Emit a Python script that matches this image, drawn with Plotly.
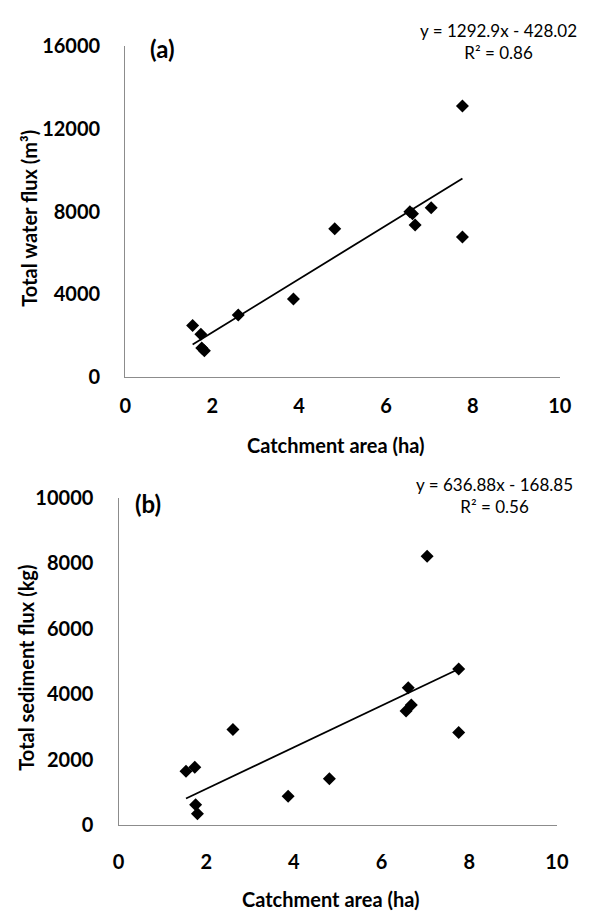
import plotly.graph_objects as go

# ---- data ----
area_a = [1.55, 1.74, 1.76, 1.82, 2.60, 3.87, 4.82, 6.55, 6.61, 6.67, 7.04, 7.76, 7.76]
water = [2500, 2070, 1410, 1280, 3010, 3780, 7170, 7990, 7900, 7360, 8190, 13100, 6780]

area_b = [1.54, 1.74, 1.76, 1.80, 2.61, 3.87, 4.81, 6.56, 6.61, 6.68, 7.04, 7.76, 7.76]
sediment = [1650, 1770, 620, 350, 2920, 880, 1420, 3490, 4200, 3670, 8220, 4770, 2830]

fit_a = (1292.9, -428.02)
fit_b = (636.88, -168.85)
eq_a = "y = 1292.9x - 428.02<br>R² = 0.86"
eq_b = "y = 636.88x - 168.85<br>R² = 0.56"

x_ticks = [0, 2, 4, 6, 8, 10]
ya_ticks = [0, 4000, 8000, 12000, 16000]
yb_ticks = [0, 2000, 4000, 6000, 8000, 10000]

W, H = 597, 915
FONT = "Lato"

def px(v):
    return v / W

def py(v):
    return 1 - v / H

fig = go.Figure()

def add_panel(xs, ys, fit, xa, ya):
    fig.add_trace(go.Scatter(x=xs, y=ys, mode="markers",
                             marker=dict(symbol="diamond", size=10, color="black"),
                             xaxis=xa, yaxis=ya, showlegend=False))
    lx = [min(xs), max(xs)]
    ly = [fit[0] * v + fit[1] for v in lx]
    fig.add_trace(go.Scatter(x=lx, y=ly, mode="lines",
                             line=dict(color="black", width=1.8),
                             xaxis=xa, yaxis=ya, showlegend=False))

add_panel(area_a, water, fit_a, "x", "y")
add_panel(area_b, sediment, fit_b, "x2", "y2")

tickfont = dict(family=FONT, size=20, color="black", weight="bold")
axcommon = dict(showgrid=False, zeroline=False, showline=True, linecolor="#8c8c8c",
                linewidth=1.3, ticks="", tickfont=tickfont, tickformat="d")

fig.update_layout(
    width=W, height=H, margin=dict(l=0, r=0, t=0, b=0),
    paper_bgcolor="white", plot_bgcolor="white",
    xaxis=dict(domain=[px(123), px(571)], range=[0, 10], tickvals=x_ticks,
               anchor="y", ticklabelstandoff=11, **axcommon),
    yaxis=dict(domain=[py(374), py(34)], range=[0, 16000], tickvals=ya_ticks,
               anchor="x", ticklabelstandoff=20, **axcommon),
    xaxis2=dict(domain=[px(116), px(568)], range=[0, 10], tickvals=x_ticks,
                anchor="y2", ticklabelstandoff=19, **axcommon),
    yaxis2=dict(domain=[py(834), py(498)], range=[0, 10000], tickvals=yb_ticks,
                anchor="x2", ticklabelstandoff=20, **axcommon),
)

titlefont = dict(family=FONT, size=20, color="black", weight="bold")
ann = [
    dict(text="Catchment area (ha)", x=px(340), y=py(444), font=titlefont),
    dict(text="Catchment area (ha)", x=px(335), y=py(910), font=titlefont),
    dict(text="Total water flux (m³)", x=px(24), y=py(211), textangle=-90, font=titlefont),
    dict(text="Total sediment flux (kg)", x=px(21), y=py(672), textangle=-90, font=titlefont),
    dict(text="(a)", x=px(161), y=py(36), font=dict(family=FONT, size=24, color="black", weight="bold")),
    dict(text="(b)", x=px(146), y=py(504), font=dict(family=FONT, size=24, color="black", weight="bold")),
    dict(text=eq_a, x=px(508), y=py(29), font=dict(family=FONT, size=17, color="black")),
    dict(text=eq_b, x=px(504), y=py(495), font=dict(family=FONT, size=17, color="black")),
]
for a in ann:
    a.update(xref="paper", yref="paper", showarrow=False, xanchor="center", yanchor="middle")
fig.update_layout(annotations=ann)

fig.write_html("out.html")
